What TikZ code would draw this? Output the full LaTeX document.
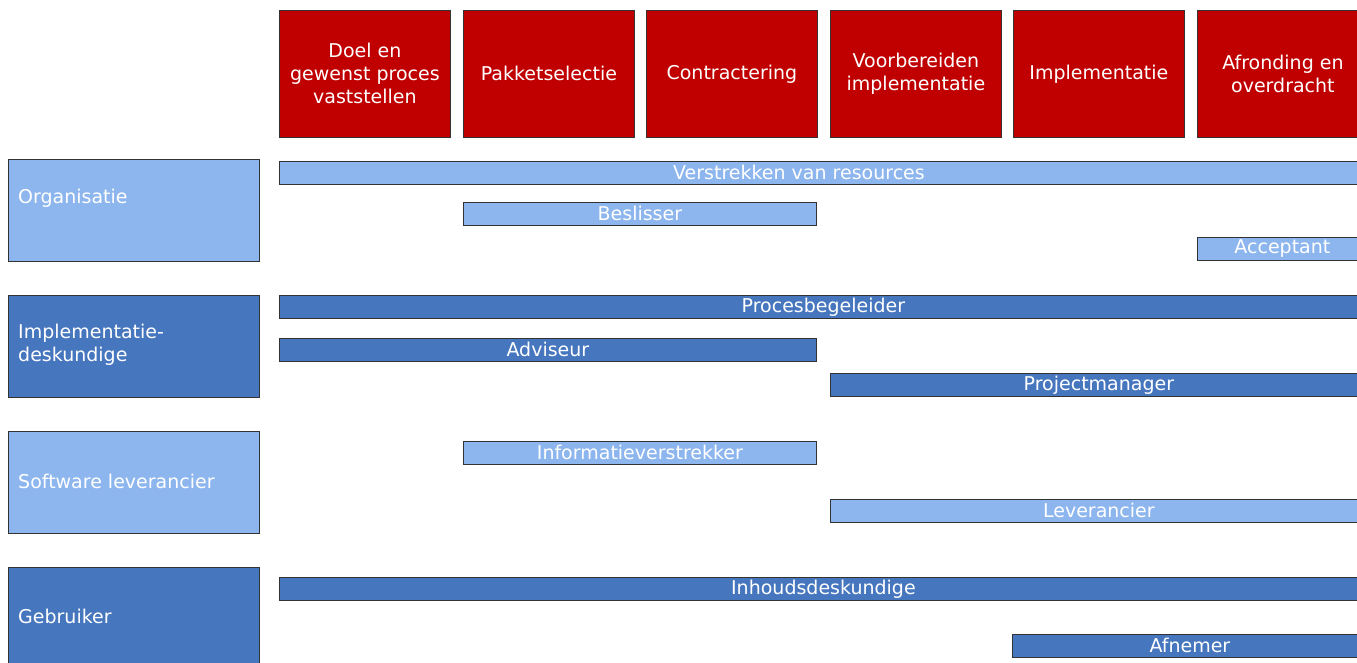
\documentclass[tikz,border=0pt]{standalone}
\usepackage{fontspec}
\setmainfont{DejaVu Sans}
\begin{document}
\begin{tikzpicture}[x=1pt,y=-1pt,
  txt/.style={font=\fontsize{19}{23}\selectfont},
  box/.style={draw=black!80, line width=0.8pt, inner sep=0pt, anchor=north west, text=white, txt},
  phase/.style={box, fill=phasered, minimum width=171pt, minimum height=127pt, align=center},
  role/.style={box, minimum width=251pt, minimum height=102pt},
  rolelabel/.style={anchor=west, text=white, align=left, inner sep=0pt, txt},
  bar/.style={box, minimum height=23pt},
  lightfill/.style={fill=lightblue},
  darkfill/.style={fill=darkblue}]
\definecolor{phasered}{HTML}{C00000}
\definecolor{lightblue}{HTML}{8DB6EE}
\definecolor{darkblue}{HTML}{4676BE}
\useasboundingbox (0,0) rectangle (1357,662);

% Phases
\node[phase] (p1) at (279,10) {Doel en\\gewenst proces\\vaststellen};
\node[phase] (p2) at (463,10) {Pakketselectie};
\node[phase] (p3) at (646,10) {Contractering};
\node[phase] (p4) at (830,10) {Voorbereiden\\implementatie};
\node[phase] (p5) at (1013,10) {Implementatie};
\node[phase] (p6) at (1197,10) {Afronding en\\overdracht};

% Roles
\node[role, lightfill] (r1) at (8,159) {};
\node[role, darkfill] (r2) at (8,295) {};
\node[role, lightfill] (r3) at (8,431) {};
\node[role, darkfill] (r4) at (8,567) {};
\node[rolelabel] (t1) at (18,198) {Organisatie};
\node[rolelabel] (t2) at (18,345) {Implementatie-\\deskundige};
\node[rolelabel] (t3) at (18,481) {Software leverancier};
\node[rolelabel] (t4) at (18,616) {Gebruiker};

% Responsibilities
\node[bar, lightfill, minimum width=1088pt] (b1) at (279,161) {};
\node[text=white, txt, inner sep=0pt] (b1t) at (799,172.5) {Verstrekken van resources};
\node[bar, lightfill, minimum width=353pt] (b2) at (463,202) {Beslisser};
\node[bar, lightfill, minimum width=170pt] (b3) at (1197,237) {Acceptant};

\node[bar, darkfill, minimum width=1088pt] (b4) at (279,295) {Procesbegeleider};
\node[bar, darkfill, minimum width=537pt] (b5) at (279,338) {Adviseur};
\node[bar, darkfill, minimum width=537pt] (b6) at (830,373) {Projectmanager};

\node[bar, lightfill, minimum width=353pt] (b7) at (463,441) {Informatieverstrekker};
\node[bar, lightfill, minimum width=537pt] (b8) at (830,499) {Leverancier};

\node[bar, darkfill, minimum width=1088pt] (b9) at (279,577) {Inhoudsdeskundige};
\node[bar, darkfill, minimum width=355pt] (b10) at (1012,634) {Afnemer};
\end{tikzpicture}
\end{document}
